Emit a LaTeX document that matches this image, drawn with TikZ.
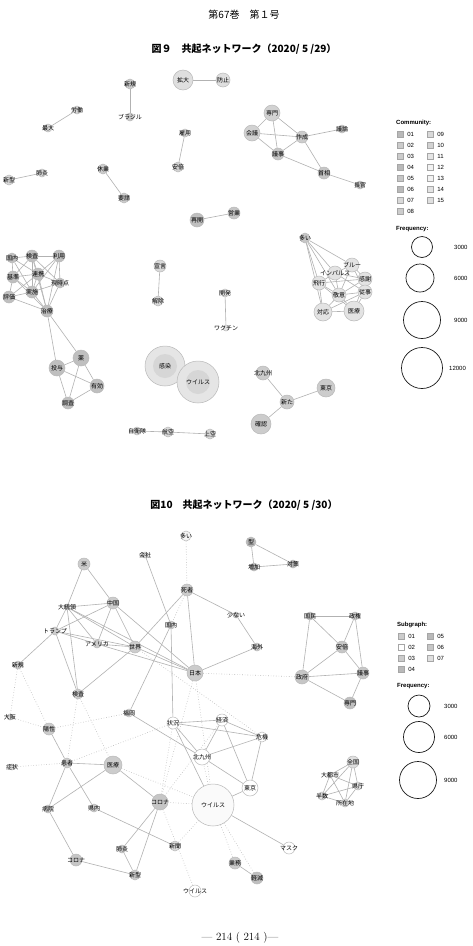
\documentclass[tikz,border=0pt]{standalone}
\usepackage{fontspec}
\newfontfamily\jpfont{Noto Sans CJK JP}
\newfontfamily\lgfont{Liberation Sans}
\usetikzlibrary{backgrounds}
\pgfdeclarelayer{fg}
\pgfsetlayers{background,main,fg}
\tikzset{
  nc/.style={circle,draw=gray!55,line width=0.5pt,inner sep=0pt},
  lbl/.style={inner sep=0pt,font=\jpfont\fontsize{6}{6}\selectfont},
  e/.style={draw=gray!60,line width=0.6pt},
  dt/.style={draw=gray!55,line width=0.6pt,dotted},
  ttl/.style={inner sep=0pt,font=\jpfont\fontsize{10}{10}\selectfont},
  lgh/.style={inner sep=0pt,anchor=west,font=\lgfont\bfseries\fontsize{6}{6}\selectfont},
  lgt/.style={inner sep=0pt,anchor=west,font=\lgfont\fontsize{6}{6}\selectfont},
  sq/.style={draw=gray!70,line width=0.4pt,minimum size=6pt,inner sep=0pt},
  fc/.style={circle,draw=gray!20!black,line width=0.7pt,fill=white,inner sep=0pt},
}
\newcommand\mynd[5]{%
  \node[nc,minimum size=#4pt,fill=#5] (#1) at (#2) {};
  \begin{pgfonlayer}{fg}\node[lbl] (#1t) at (#2) {#3};\end{pgfonlayer}}
\newcommand\lgsq[4]{%
  \node[sq,fill=#3] (#1) at (#2) {};
  \node[lgt] (#1t) at ([xshift=4pt]#1.east) {#4};}
\begin{document}
\begin{tikzpicture}[x=1pt,y=-1pt]
\useasboundingbox (0,0) rectangle (472,946);
\begin{scope}[on background layer]
\fill[white] (0,0) rectangle (472,946);
\end{scope}

% header and titles
\node[ttl] (hdr) at (244,15) {第67巻　第１号};
\node[ttl,font=\jpfont\bfseries\fontsize{10}{10}\selectfont] (t9) at (244,49) {図９　共起ネットワーク（2020/ 5 /29）};
\node[ttl,font=\jpfont\bfseries\fontsize{10}{10}\selectfont] (t10) at (244,505) {図10　共起ネットワーク（2020/ 5 /30）};
\node[inner sep=0pt,font=\fontsize{11}{11}\selectfont] (foot) at (240,938) {— 214 ( 214 )—};

% ===== Figure 9 nodes =====
\mynd{akakudai}{183,80}{拡大}{20}{gray!25}
\mynd{aboshi}{223,80}{防止}{14}{gray!25}
\mynd{ashinki}{130,84}{新規}{10}{gray!40}
\mynd{abrazil}{130,117}{ブラジル}{8}{gray!40}
\mynd{arodo}{77,110}{労働}{8}{gray!30}
\mynd{asaidai}{48,128}{最大}{8}{gray!30}
\mynd{akoyo}{185,133}{雇用}{8}{gray!30}
\mynd{aabe}{178,167}{安倍}{10}{gray!35}
\mynd{ahaien}{42,173}{肺炎}{8}{gray!30}
\mynd{ashingata}{9,180}{新型}{10}{gray!30}
\mynd{akyugyo}{103,169}{休業}{10}{gray!40}
\mynd{ayosei}{124,198}{要請}{10}{gray!40}
\mynd{asaikai}{197,220}{再開}{14}{gray!50}
\mynd{aeigyo}{234,213}{営業}{12}{gray!45}
\mynd{asenmon}{272,113}{専門}{16}{gray!35}
\mynd{akaigi}{252,133}{会議}{16}{gray!35}
\mynd{asakusei}{302,137}{作成}{12}{gray!40}
\mynd{agiron}{342,129}{議論}{8}{gray!40}
\mynd{agiji}{278,154}{議事}{12}{gray!45}
\mynd{ashusho}{324,173}{首相}{12}{gray!45}
\mynd{achokan}{360,185}{長官}{8}{gray!45}
\mynd{akokunai}{12,258}{国内}{10}{gray!50}
\mynd{akensa}{32,256}{検査}{12}{gray!50}
\mynd{ariyo}{59,256}{利用}{12}{gray!50}
\mynd{akijun}{13,277}{基準}{12}{gray!50}
\mynd{arenkei}{38,274}{連携}{12}{gray!50}
\mynd{agenji}{60,283}{現時点}{10}{gray!50}
\mynd{ahyoka}{9,297}{評価}{12}{gray!50}
\mynd{ajisshi}{32,292}{実施}{12}{gray!50}
\mynd{achiryo}{47,311}{治療}{12}{gray!50}
\mynd{akusuri}{81,358}{薬}{16}{gray!50}
\mynd{atoyo}{57,368}{投与}{16}{gray!50}
\mynd{ayuko}{97,386}{有効}{14}{gray!50}
\mynd{achosa}{68,403}{調査}{12}{gray!50}
\mynd{asengen}{160,266}{宣言}{12}{gray!30}
\mynd{akaijo}{158,301}{解除}{10}{gray!30}
\mynd{akaihatsu}{225,293}{開発}{8}{gray!20}
\mynd{avaccine}{226,328}{ワクチン}{6}{gray!20}
\node[nc,minimum size=40pt,fill=gray!20] (akansen) at (165,366) {};
\fill[gray!32] (akansen.center) circle (12pt);
\node[nc,minimum size=42pt,fill=gray!20] (avirus) at (198,382) {};
\fill[gray!32] (avirus.center) circle (12pt);
\begin{pgfonlayer}{fg}
\node[lbl] (akansent) at (akansen) {感染};
\node[lbl] (avirust) at (avirus) {ウイルス};
\end{pgfonlayer}
\mynd{aooi}{305,238}{多い}{10}{gray!45}
\mynd{ablue}{352,265}{ブルー}{14}{gray!22}
\mynd{aimpulse}{335,273}{インパルス}{14}{gray!22}
\mynd{ahiko}{319,283}{飛行}{14}{gray!22}
\mynd{akansha}{365,279}{感謝}{14}{gray!22}
\mynd{ajuji}{365,292}{従事}{14}{gray!22}
\mynd{akeii}{339,295}{敬意}{14}{gray!22}
\mynd{ataio}{323,312}{対応}{18}{gray!22}
\mynd{airyo}{354,311}{医療}{20}{gray!22}
\mynd{akitaq}{263,373}{北九州}{14}{gray!40}
\mynd{atokyo}{326,388}{東京}{18}{gray!40}
\mynd{aarata}{287,402}{新た}{14}{gray!40}
\mynd{akakunin}{261,424}{確認}{20}{gray!40}
\mynd{ajieitai}{137,431}{自衛隊}{8}{gray!30}
\mynd{akoku}{168,432}{航空}{10}{gray!30}
\mynd{ajoku}{210,434}{上空}{10}{gray!30}

% ===== Figure 9 legend =====
\node[lgh] (acomm) at (396,123) {Community:};
\lgsq{aL01}{400,134}{gray!55}{01}
\lgsq{aL02}{400,145}{gray!40}{02}
\lgsq{aL03}{400,156}{gray!40}{03}
\lgsq{aL04}{400,167}{gray!55}{04}
\lgsq{aL05}{400,178}{gray!45}{05}
\lgsq{aL06}{400,189}{gray!55}{06}
\lgsq{aL07}{400,200}{gray!30}{07}
\lgsq{aL08}{400,211}{gray!40}{08}
\lgsq{aL09}{430,134}{gray!30}{09}
\lgsq{aL10}{430,145}{gray!35}{10}
\lgsq{aL11}{430,156}{gray!20}{11}
\lgsq{aL12}{430,167}{gray!10}{12}
\lgsq{aL13}{430,178}{gray!10}{13}
\lgsq{aL14}{430,189}{gray!22}{14}
\lgsq{aL15}{430,200}{gray!25}{15}
\node[lgh] (afreq) at (396,229) {Frequency:};
\node[fc,minimum size=21pt] (aF1) at (422,247) {};
\node[lgt] (aF1t) at (454,247) {3000};
\node[fc,minimum size=28pt] (aF2) at (420,278) {};
\node[lgt] (aF2t) at (454,278) {6000};
\node[fc,minimum size=37pt] (aF3) at (422,320) {};
\node[lgt] (aF3t) at (454,320) {9000};
\node[fc,minimum size=41pt] (aF4) at (422,368) {};
\node[lgt] (aF4t) at (449,368) {12000};

% ===== Figure 10 nodes =====
\mynd{booi}{186,536}{多い}{10}{gray!8}
\mynd{bkaisha}{145,555}{会社}{6}{gray!30}
\mynd{bbei}{84,564}{米}{12}{gray!40}
\mynd{bshisha}{187,590}{死者}{12}{gray!40}
\mynd{bchugoku}{113,603}{中国}{12}{gray!40}
\mynd{bdaitoryo}{67,607}{大統領}{6}{gray!40}
\mynd{bsukunai}{236,615}{少ない}{6}{gray!40}
\mynd{bkokunai}{171,625}{国内}{8}{gray!40}
\mynd{btrump}{55,631}{トランプ}{8}{gray!40}
\mynd{bamerica}{97,644}{アメリカ}{8}{gray!40}
\mynd{bsekai}{135,647}{世界}{12}{gray!40}
\mynd{bnihon}{195,673}{日本}{16}{gray!40}
\mynd{bkaigai}{257,647}{海外}{8}{gray!40}
\mynd{bshinki}{18,665}{新規}{8}{gray!40}
\mynd{bkensa}{78,694}{検査}{10}{gray!40}
\mynd{bosaka}{10,717}{大阪}{6}{gray!25}
\mynd{bfukuoka}{129,713}{福岡}{8}{gray!25}
\mynd{byosei}{49,729}{陽性}{12}{gray!40}
\mynd{bjokyo}{173,723}{状況}{12}{white}
\mynd{bkeizai}{222,720}{経済}{12}{white}
\mynd{bkitaq}{202,757}{北九州}{16}{white}
\mynd{bkanja}{67,763}{患者}{10}{gray!40}
\mynd{biryo}{113,765}{医療}{18}{gray!40}
\mynd{bshojo}{12,767}{症状}{6}{gray!25}
\mynd{bkiki}{262,737}{危機}{10}{white}
\mynd{btokyo}{250,788}{東京}{16}{white}
\mynd{bbyoin}{48,809}{病院}{8}{gray!40}
\mynd{bkennai}{94,808}{県内}{8}{gray!40}
\mynd{bcorona}{160,802}{コロナ}{16}{gray!45}
\mynd{bvirus}{213,805}{ウイルス}{42}{gray!4}
\mynd{bhaien}{122,849}{肺炎}{8}{gray!40}
\mynd{bshinbun}{175,846}{新聞}{10}{gray!30}
\mynd{bcoronb}{76,860}{コロナ}{12}{gray!45}
\mynd{bshingata}{135,875}{新型}{10}{gray!40}
\mynd{bvirusb}{195,891}{ウイルス}{12}{white}
\mynd{bmask}{289,848}{マスク}{12}{white}
\mynd{bgyomu}{235,863}{業務}{12}{gray!40}
\mynd{bkeigen}{257,878}{軽減}{12}{gray!50}
\mynd{bzenkoku}{353,762}{全国}{12}{gray!25}
\mynd{bdaitoshi}{330,775}{大都市}{6}{gray!25}
\mynd{bkencho}{358,786}{県庁}{8}{gray!25}
\mynd{bhansu}{322,796}{半数}{8}{gray!25}
\mynd{bshozai}{345,803}{所在地}{8}{gray!25}
\mynd{bkokumin}{310,616}{国民}{8}{gray!45}
\mynd{bseiken}{355,616}{政権}{8}{gray!45}
\mynd{babe}{342,647}{安倍}{12}{gray!45}
\mynd{bseifu}{302,677}{政府}{14}{gray!45}
\mynd{bgiji}{363,673}{議事}{12}{gray!45}
\mynd{bsenmon}{350,703}{専門}{12}{gray!50}
\mynd{bkata}{251,542}{型}{10}{gray!55}
\mynd{bzoka}{254,567}{増加}{8}{gray!55}
\mynd{btaisaku}{293,564}{対策}{8}{gray!55}

% ===== Figure 10 legend =====
\node[lgh] (bsub) at (397,625) {Subgraph:};
\lgsq{bL01}{401,636}{gray!40}{01}
\lgsq{bL02}{401,647}{white}{02}
\lgsq{bL03}{401,658}{gray!40}{03}
\lgsq{bL04}{401,669}{gray!55}{04}
\lgsq{bL05}{430,636}{gray!55}{05}
\lgsq{bL06}{430,647}{gray!45}{06}
\lgsq{bL07}{430,658}{gray!25}{07}
\node[lgh] (bfreq) at (397,686) {Frequency:};
\node[fc,minimum size=22pt] (bF1) at (419,706) {};
\node[lgt] (bF1t) at (444,706) {3000};
\node[fc,minimum size=31pt] (bF2) at (419,737) {};
\node[lgt] (bF2t) at (444,737) {6000};
\node[fc,minimum size=37pt] (bF3) at (418,780) {};
\node[lgt] (bF3t) at (444,780) {9000};

% ===== edges =====
\begin{scope}[on background layer]
\foreach \a/\b in {akakudai/aboshi,ashinki/abrazil,arodo/asaidai,akoyo/aabe,ahaien/ashingata,akyugyo/ayosei,asaikai/aeigyo,
 asenmon/akaigi,asenmon/asakusei,asenmon/agiji,akaigi/asakusei,akaigi/agiji,agiji/asakusei,asakusei/agiron,asakusei/ashusho,agiji/ashusho,ashusho/achokan,
 akokunai/akensa,akensa/ariyo,akokunai/akijun,akokunai/arenkei,akokunai/ajisshi,akensa/akijun,akensa/arenkei,akensa/ajisshi,akensa/achiryo,akensa/agenji,
 ariyo/arenkei,ariyo/agenji,ariyo/ajisshi,ariyo/achiryo,akijun/arenkei,akijun/ahyoka,akijun/ajisshi,akijun/achiryo,arenkei/agenji,arenkei/ajisshi,arenkei/achiryo,
 arenkei/ahyoka,agenji/ajisshi,agenji/achiryo,ahyoka/ajisshi,ahyoka/achiryo,ajisshi/achiryo,
 achiryo/akusuri,achiryo/atoyo,akusuri/atoyo,akusuri/ayuko,akusuri/achosa,atoyo/ayuko,atoyo/achosa,ayuko/achosa,
 asengen/akaijo,akaihatsu/avaccine,
 aooi/ahiko,aooi/aimpulse,aooi/ablue,aooi/akeii,aooi/ataio,ablue/aimpulse,ablue/akansha,ablue/ajuji,ablue/akeii,aimpulse/ahiko,aimpulse/akansha,
 aimpulse/akeii,aimpulse/ajuji,ahiko/akeii,ahiko/ataio,ahiko/akansha,akansha/ajuji,akansha/akeii,akansha/airyo,ajuji/akeii,ajuji/airyo,akeii/ataio,
 akeii/airyo,ataio/airyo,ahiko/airyo,ataio/ajuji,
 akitaq/aarata,aarata/atokyo,aarata/akakunin,ajieitai/akoku,akoku/ajoku}
 \draw[e] (\a) -- (\b);
\foreach \a/\b in {bbei/bdaitoryo,bbei/bchugoku,bdaitoryo/bchugoku,bdaitoryo/btrump,bdaitoryo/bamerica,bdaitoryo/bsekai,bdaitoryo/bnihon,bdaitoryo/bkensa,
 bchugoku/bamerica,bchugoku/bsekai,bchugoku/bnihon,btrump/bchugoku,btrump/bamerica,btrump/bsekai,btrump/bkensa,btrump/bshinki,bamerica/bsekai,bamerica/bnihon,
 bsekai/bnihon,bsekai/bkensa,bshisha/bsekai,bshisha/bnihon,bshisha/bsukunai,bsukunai/bkaigai,bkaigai/bnihon,bkaisha/bkokunai,bkokunai/bjokyo,
 bkokunai/bfukuoka,bfukuoka/bkitaq,bjokyo/bkeizai,bjokyo/bkitaq,bjokyo/bkiki,bkeizai/bkitaq,bkeizai/bkiki,bkeizai/btokyo,bkitaq/btokyo,bkiki/btokyo,
 bkitaq/bkiki,bvirus/bjokyo,bvirus/bmask,bvirus/btokyo,bgyomu/bkeigen,byosei/bkanja,bkanja/biryo,bkanja/bbyoin,bkanja/bkennai,bbyoin/biryo,
 bbyoin/bcoronb,bcoronb/bshingata,bshingata/bhaien,bshingata/bcorona,bhaien/bcorona,bkennai/bshinbun,biryo/bcorona,
 bkokumin/bseiken,bkokumin/bseifu,bkokumin/babe,bseiken/babe,bseiken/bgiji,babe/bseifu,babe/bgiji,bseifu/bgiji,bseifu/bsenmon,bgiji/bsenmon,
 bkata/bzoka,bkata/btaisaku,bzoka/btaisaku,
 bzenkoku/bdaitoshi,bzenkoku/bkencho,bzenkoku/bhansu,bzenkoku/bshozai,bdaitoshi/bkencho,bdaitoshi/bhansu,bdaitoshi/bshozai,bkencho/bhansu,
 bkencho/bshozai,bhansu/bshozai}
 \draw[e] (\a) -- (\b);
\foreach \a/\b in {booi/bshisha,bshisha/bkokunai,bnihon/bseifu,bnihon/bcorona,bnihon/bvirus,bsekai/bkiki,bshinki/bosaka,bshinki/byosei,bosaka/byosei,
 byosei/bfukuoka,bkensa/bkanja,bkensa/biryo,bshojo/bkanja,bkanja/bjokyo,bvirus/bcorona,bvirus/bshinbun,bvirus/bkitaq,bvirus/bgyomu,
 bvirus/bkeigen,bcorona/bvirusb,bjokyo/bcorona,biryo/bvirus,bcorona/bkeizai}
 \draw[dt] (\a) -- (\b);
\end{scope}
\end{tikzpicture}
\end{document}
